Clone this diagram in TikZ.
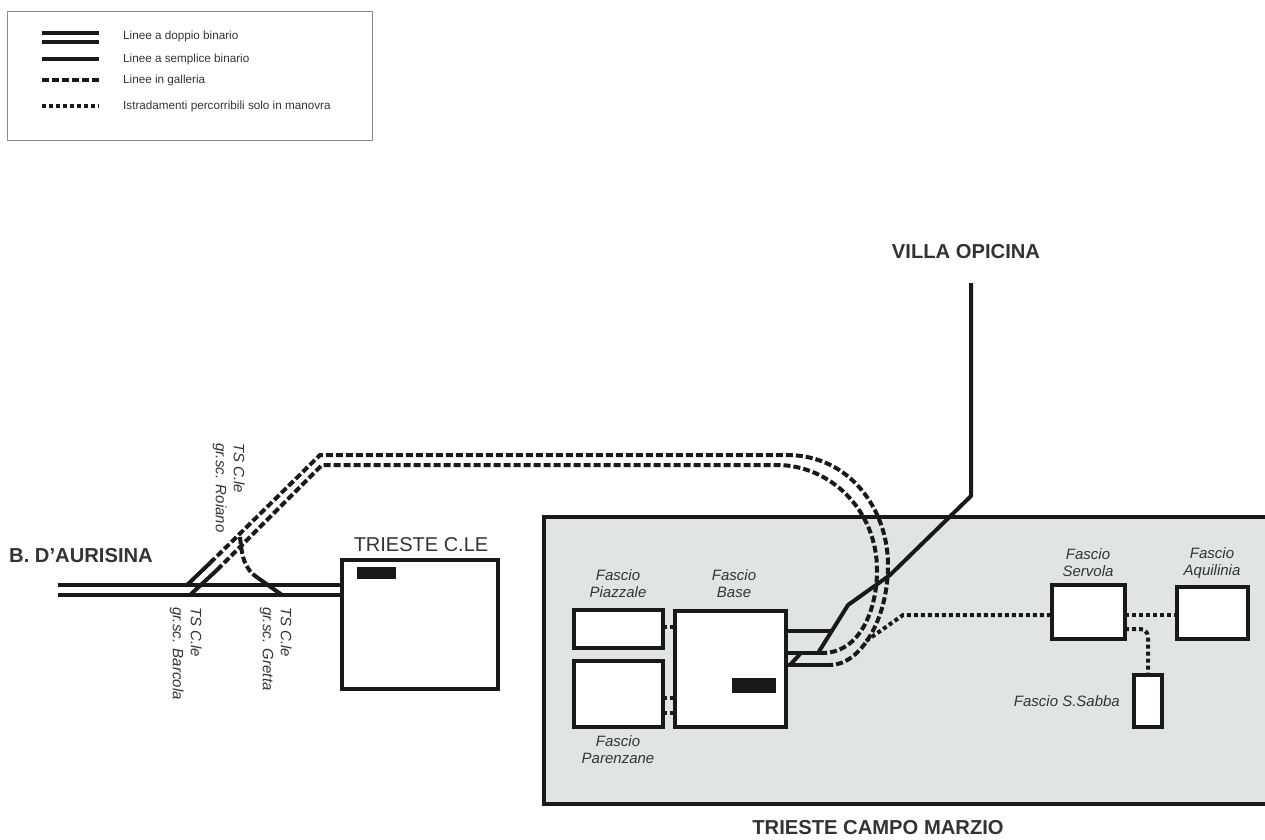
\documentclass[tikz,border=0pt]{standalone}
\usepackage{fontspec}
\setmainfont{Liberation Sans}
\usepackage{xcolor}
\usetikzlibrary{positioning, calc}
\definecolor{tsyard}{HTML}{E1E5E1}
\definecolor{tstext}{HTML}{333333}
\definecolor{tsframe}{HTML}{8A8A8A}

\begin{document}
\begin{tikzpicture}[
  x=1pt, y=-1pt,
  yard/.style={
    rectangle, draw=black!90, fill=white, line width=3.5pt, outer sep=0pt, inner sep=0pt
  },
  cabin/.style={rectangle, fill=black!90, inner sep=0pt, outer sep=0pt},
  track/.style={line width=4pt, color=black!90},
  tunnel/.style={line width=4pt, color=black!90, dash pattern=on 7pt off 3pt},
  shunt/.style={line width=4pt, color=black!90, dash pattern=on 4pt off 3pt},
  place/.style={font=\fontsize{20.2}{22}\selectfont\bfseries, text=tstext, inner sep=0pt},
  yardlab/.style={font=\fontsize{15}{17}\selectfont\itshape, text=tstext, align=center, inner sep=0pt},
  sclab/.style={font=\fontsize{15}{18}\selectfont\itshape, text=tstext, align=left, rotate=-90, inner sep=0pt},
  keylab/.style={font=\fontsize{11.7}{13}\selectfont, text=tstext, anchor=west, inner sep=0pt},
]
\useasboundingbox (0,0) rectangle (1265,839);

% Legend
\node[draw=tsframe, line width=1pt, minimum width=365pt, minimum height=129pt, inner sep=0pt] (legend) at (189.5,75.5) {};
\node[keylab] (keydouble) at (123,36.5) {Linee a doppio binario};
\node[keylab] (keysingle) at (123,59.5) {Linee a semplice binario};
\node[keylab] (keytunnel) at (123,80.5) {Linee in galleria};
\node[keylab] (keyshunt) at (123,106.5) {Istradamenti percorribili solo in manovra};
\coordinate (ka) at (42,33);
\coordinate (kb) at (99,33);
\coordinate (kc) at (42,42);
\coordinate (kd) at (99,42);
\coordinate (ke) at (42,59);
\coordinate (kf) at (99,59);
\coordinate (kg) at (42,80);
\coordinate (kh) at (99,80);
\coordinate (ki) at (42,106);
\coordinate (kj) at (99,106);
\draw[track] (ka) -- (kb);
\draw[track] (kc) -- (kd);
\draw[track] (ke) -- (kf);
\draw[tunnel] (kg) -- (kh);
\draw[shunt] (ki) -- (kj);

% Campo Marzio area
\node[draw=black!90, fill=tsyard, line width=3.5pt, minimum width=726pt, minimum height=287pt, inner sep=0pt] (marzio) at (907,660.5) {};

% Yards
\node[yard, minimum width=156pt, minimum height=129pt] (centrale) at (420,624.5) {};
\node[yard, minimum width=111pt, minimum height=116pt] (base) at (730.5,669) {};
\node[yard, minimum width=89pt, minimum height=38pt] (piazzale) at (618.5,629) {};
\node[yard, minimum width=89pt, minimum height=66pt] (parenzane) at (618.5,694) {};
\node[yard, minimum width=73pt, minimum height=54pt] (servola) at (1088.5,612) {};
\node[yard, minimum width=71pt, minimum height=52pt] (aquilinia) at (1212.5,613) {};
\node[yard, minimum width=28pt, minimum height=52pt] (sabba) at (1148,701) {};
\node[cabin, minimum width=39pt, minimum height=12pt] (cabincentrale) at (376.5,573) {};
\node[cabin, minimum width=44pt, minimum height=15pt] (cabinbase) at (754,685.5) {};

% Line to Villa Opicina
\coordinate (opicina) at (971,283);
\coordinate (oa) at (971,496);
\coordinate (ob) at (890,575);
\coordinate (oc) at (848,605);
\coordinate (od) at (818,653);
\draw[line width=4pt, color=black!90, line join=round] (opicina) -- (oa) -- (ob) -- (oc) -- (od);

% Base tracks
\coordinate (ba) at (786,631);
\coordinate (bb) at (831,631);
\coordinate (bc) at (786,653);
\coordinate (bd) at (822,653);
\coordinate (be) at (786,665);
\coordinate (bf) at (830,665);
\coordinate (bg) at (790,665);
\coordinate (bh) at (800,654);
\draw[track] (ba) -- (bb);
\draw[track] (bc) -- (bd);
\draw[track] (be) -- (bf);
\draw[track] (bg) -- (bh);

% Double track from Aurisina
\coordinate (aa) at (58,585);
\coordinate (ab) at (342,585);
\coordinate (ac) at (58,595);
\coordinate (ad) at (342,595);
\draw[track] (aa) -- (ab);
\draw[track] (ac) -- (ad);

% Junctions
\coordinate (ja) at (187,585);
\coordinate (jb) at (210,563);
\coordinate (jc) at (190,595);
\coordinate (jd) at (217,570);
\coordinate (je) at (320,455);
\coordinate (jf) at (322,465);
\coordinate (jg) at (787,455);
\coordinate (jh) at (777,465);
\draw[track] (ja) -- (jb);
\draw[track] (jc) -- (jd);
\draw[tunnel] (jb) -- (je) -- (jg) .. controls (850,455) and (888,510) .. (888,565) .. controls (888,620) and (860,665) .. (bf);
\draw[tunnel] (jd) -- (jf) -- (jh) .. controls (830,465) and (877,510) .. (877,570) .. controls (877,610) and (860,653) .. (bd);

% Gretta branch
\coordinate (ga) at (240,537);
\coordinate (gb) at (258,578);
\coordinate (gc) at (282,595);
\draw[tunnel] (ga) .. controls (242,555) and (243,568) .. (gb);
\draw[track] (gb) -- (gc);

% Shunting routes
\coordinate (sa) at (866,641);
\coordinate (sb) at (903,615);
\draw[shunt] (sa) -- (sb) -- (servola.west |- sb);
\draw[shunt] (servola.east |- sb) -- (aquilinia.west |- sb);
\coordinate (sc) at (1125,629);
\coordinate (sd) at (1148,629);
\draw[shunt, rounded corners=8pt] (sc) -- (sd) -- (sabba.north);
\coordinate (pa) at (663,627);
\coordinate (pb) at (675,627);
\coordinate (pc) at (663,698);
\coordinate (pd) at (675,698);
\coordinate (pe) at (663,713);
\coordinate (pf) at (675,713);
\draw[shunt] (pa) -- (pb);
\draw[shunt] (pc) -- (pd);
\draw[shunt] (pe) -- (pf);

% Labels
\node[place] (villa) at (966,252) {VILLA OPICINA};
\node[place] (aurisina) at (81,556) {B. D'AURISINA};
\node[place] (campo) at (878,828) {TRIESTE CAMPO MARZIO};
\node[font=\fontsize{20}{22}\selectfont, text=tstext, inner sep=0pt] (centralelab) at (421,545) {TRIESTE C.LE};
\node[yardlab] (piazzalelab) at (618,584) {Fascio\\Piazzale};
\node[yardlab] (baselab) at (734,584) {Fascio\\Base};
\node[yardlab] (parenzanelab) at (618,750) {Fascio\\Parenzane};
\node[yardlab] (servolalab) at (1088,563) {Fascio\\Servola};
\node[yardlab] (aquilinialab) at (1212,563) {Fascio\\Aquilinia};
\node[yardlab, left=14pt of sabba] (sabbalab) {Fascio S.Sabba};
\node[sclab, anchor=north west] (roiano) at (245,443) {TS C.le\\gr.sc. Roiano};
\node[sclab, anchor=north west] (barcola) at (202,607) {TS C.le\\gr.sc. Barcola};
\node[sclab, anchor=north west] (gretta) at (292,607) {TS C.le\\gr.sc. Gretta};
\end{tikzpicture}
\end{document}
